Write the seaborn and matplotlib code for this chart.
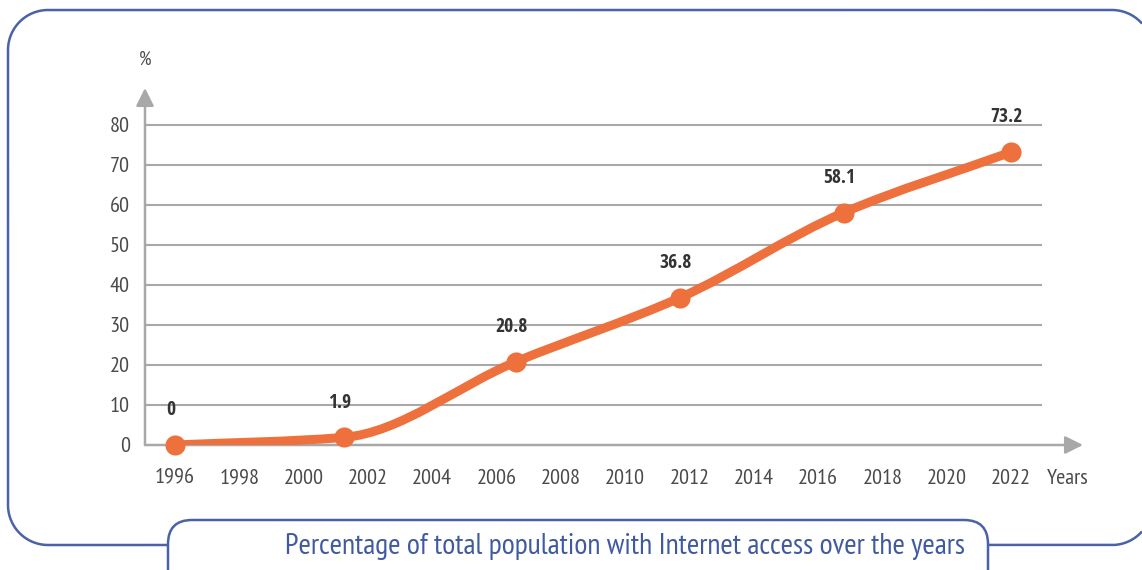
import matplotlib
matplotlib.use("Agg")
import matplotlib.pyplot as plt
from matplotlib.patches import FancyBboxPatch, PathPatch
from matplotlib.path import Path
from matplotlib import font_manager
import numpy as np
import pandas as pd
import seaborn as sns

# Internet access share of the total population
years = [1996, 2001.25, 2006.6, 2011.7, 2016.8, 2022]
share = [0, 1.9, 20.8, 36.8, 58.1, 73.2]
value_labels = ["0", "1.9", "20.8", "36.8", "58.1", "73.2"]
tick_years = list(range(1996, 2023, 2))
y_ticks = [0, 10, 20, 30, 40, 50, 60, 70, 80]
title = "Percentage of total population with Internet access over the years"

sns.set_theme(style="white")
names = {f.name for f in font_manager.fontManager.ttflist}


def pick(*cands):
    for c in cands:
        if c in names:
            return c
    return "DejaVu Sans"


REG = pick("PT Sans Narrow", "Roboto Condensed", "Liberation Sans Narrow")
BOLD = pick("Open Sans Condensed", "PT Sans Narrow", "Roboto Condensed")
plt.rcParams["font.family"] = [REG, "DejaVu Sans"]

ORANGE = "#ee703d"
GREY = "#a8a8a8"
TEXT = "#4a4a4a"
BLUE = "#4a62a8"

W, H = 1142, 570
fig = plt.figure(figsize=(W / 100, H / 100), dpi=100)
fig.patch.set_facecolor("white")

# background layer in pixel units (origin bottom-left) for the frame
bg = fig.add_axes([0, 0, 1, 1], zorder=0)
bg.set_xlim(0, W)
bg.set_ylim(0, H)
bg.axis("off")


def arc(cx, cy, r, a0, a1):
    t = np.radians(np.linspace(a0, a1, 40))
    return cx + r * np.cos(t), cy + r * np.sin(t)


R = 40
left, right_c, top, bottom = 8, 1112, 560, 25
ring_x, ring_y = [], []
for seg in (
    arc(right_c, top - R, R, 41.4, 90),
    ([right_c, left + R], [top, top]),
    arc(left + R, top - R, R, 90, 180),
    ([left, left], [top - R, bottom + R]),
    arc(left + R, bottom + R, R, 180, 270),
    ([left + R, right_c], [bottom, bottom]),
    arc(right_c, bottom + R, R, 270, 318.6),
):
    ring_x.extend(seg[0])
    ring_y.extend(seg[1])
bg.plot(ring_x, ring_y, color=BLUE, linewidth=1.8, solid_capstyle="butt")

bg.add_patch(FancyBboxPatch((168, -30), 820, 80,
                            boxstyle="round,pad=0,rounding_size=24",
                            facecolor="white", edgecolor=BLUE, linewidth=1.8,
                            zorder=3))
bg.text(625, H - 547, title, ha="center", va="center", color="#3f5aa0",
        fontsize=21.5, zorder=4)

ax = fig.add_axes([145 / W, (H - 445) / H, 938 / W, 357 / H], zorder=1)
ax.set_facecolor("none")
x_left = 1996 + (145 - 175) / 32.15
x_grid_end = 1996 + (1042 - 175) / 32.15
x_right = 1996 + (1083 - 175) / 32.15
ax.set_xlim(x_left, x_right)
ax.set_ylim(0, 89.25)
for s in ax.spines.values():
    s.set_visible(False)

# horizontal gridlines
ax.hlines(y_ticks[1:], x_left, x_grid_end, color=GREY, linewidth=1.5, zorder=1)

# axes drawn as arrows
arrow = dict(arrowstyle="-|>,head_length=0.9,head_width=0.45", color=GREY,
             linewidth=1.8, shrinkA=0, shrinkB=0)
ax.annotate("", xy=(1.0, 0), xytext=(0, 0), xycoords="axes fraction",
            arrowprops=arrow, annotation_clip=False)
ax.annotate("", xy=(0, 1.0), xytext=(0, 0), xycoords="axes fraction",
            arrowprops=arrow, annotation_clip=False)

ax.set_xticks(tick_years)
ax.set_xticklabels([str(t) for t in tick_years])
ax.set_yticks(y_ticks)
ax.set_yticklabels([str(t) for t in y_ticks])
ax.tick_params(axis="x", length=0, pad=17, labelsize=16, labelcolor=TEXT)
ax.tick_params(axis="y", length=0, pad=11, labelsize=16, labelcolor=TEXT)

ax.text(0, 1 + 28 / 357, "%", transform=ax.transAxes, ha="center",
        va="center", fontsize=14, color=TEXT)
ax.text(1068, H - 478, "Years", transform=None, ha="center", va="center",
        fontsize=16, color=TEXT)

# smoothed line through the points: monotone cubic tangents as Beziers
pts = np.column_stack([years, share]).astype(float)
h = np.diff(pts[:, 0])
d = np.diff(pts[:, 1]) / h
m = np.empty(len(pts))
m[0], m[-1] = d[0], d[-1]
for i in range(1, len(pts) - 1):
    if d[i - 1] * d[i] <= 0:
        m[i] = 0.0
    else:
        w1 = 2 * h[i] + h[i - 1]
        w2 = h[i] + 2 * h[i - 1]
        m[i] = (w1 + w2) / (w1 / d[i - 1] + w2 / d[i])
verts = [tuple(pts[0])]
codes = [Path.MOVETO]
for i in range(len(pts) - 1):
    x0, y0 = pts[i]
    x1, y1 = pts[i + 1]
    verts += [(x0 + h[i] / 3, y0 + m[i] * h[i] / 3),
              (x1 - h[i] / 3, y1 - m[i + 1] * h[i] / 3),
              (x1, y1)]
    codes += [Path.CURVE4] * 3
ax.add_patch(PathPatch(Path(verts, codes), facecolor="none",
                       edgecolor=ORANGE, linewidth=6.5, capstyle="round",
                       joinstyle="round", zorder=3))

df = pd.DataFrame({"year": years, "share": share})
sns.scatterplot(data=df, x="year", y="share", ax=ax, color=ORANGE, s=210,
                edgecolor=ORANGE, linewidth=0, zorder=4, legend=False,
                clip_on=False)
ax.set_xlabel("")
ax.set_ylabel("")

for x, y, lab in zip(years, share, value_labels):
    ax.annotate(lab, (x, y), xytext=(-3, 25), textcoords="offset points",
                ha="center", va="center", fontsize=14, fontweight="bold",
                family=[BOLD, "DejaVu Sans"], color="#333333")

fig.savefig("out.png", dpi=100, facecolor="white")
